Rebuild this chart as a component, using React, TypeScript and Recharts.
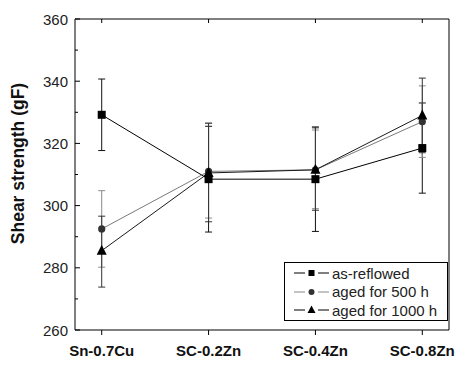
import React from 'react';
import { LineChart, Line, XAxis, YAxis, ErrorBar, Legend } from 'recharts';

const categories = ['Sn-0.7Cu', 'SC-0.2Zn', 'SC-0.4Zn', 'SC-0.8Zn'];
const seriesNames = ['as-reflowed', 'aged for 500 h', 'aged for 1000 h'];

const asReflowed = [329.2, 308.5, 308.5, 318.5];
const asReflowedErr = [[11.5, 11.5], [17, 17], [16.8, 16.8], [14.5, 14.5]];
const aged500 = [292.5, 311, 311.5, 327];
const aged500Err = [[12.3, 12.3], [15, 15.5], [12.5, 12.8], [11.5, 11.5]];
const aged1000 = [285.5, 310.5, 311.5, 329];
const aged1000Err = [[11.7, 11.1], [15.7, 16], [13, 13.5], [12, 12]];

const yTicks = [260, 270, 280, 290, 300, 310, 320, 330, 340, 350, 360];
const yLabels = [260, 280, 300, 320, 340, 360];

const FONT = 'Arial, "Liberation Sans", sans-serif';
const PLOT_LEFT = 75;
const PLOT_RIGHT = 449;
const PLOT_TOP = 19;

const data = categories.map((name, i) => ({
  x: i,
  name,
  s0: asReflowed[i],
  e0: asReflowedErr[i],
  s1: aged500[i],
  e1: aged500Err[i],
  s2: aged1000[i],
  e2: aged1000Err[i],
}));

const colors = ['#000000', '#7a7a7a', '#1a1a1a'];
const errColors = ['#111111', '#8a8a8a', '#333333'];

const Marker = ({ kind, cx, cy }: any) => {
  if (kind === 0) return <rect x={cx - 4} y={cy - 4} width={8} height={8} fill="#000" />;
  if (kind === 1) return <circle cx={cx} cy={cy} r={3.6} fill="#333" />;
  return <polygon points={`${cx},${cy - 6} ${cx - 5},${cy + 4} ${cx + 5},${cy + 4}`} fill="#000" />;
};

const LeftTick = (props: any) => {
  const { y, payload } = props;
  const major = yLabels.includes(payload.value);
  return (
    <g>
      <line x1={PLOT_LEFT} x2={PLOT_LEFT + (major ? 5 : 3)} y1={y} y2={y} stroke="#000" />
      {major && (
        <text x={68} y={y} dy={5.5} textAnchor="end" fontSize={15} fill="#222" fontFamily={FONT}>
          {payload.value}
        </text>
      )}
    </g>
  );
};

const RightTick = (props: any) => {
  const { y, payload } = props;
  const major = yLabels.includes(payload.value);
  return <line x1={PLOT_RIGHT} x2={PLOT_RIGHT - (major ? 5 : 3)} y1={y} y2={y} stroke="#000" />;
};

const TopTick = (props: any) => {
  const { x } = props;
  return <line x1={x} x2={x} y1={PLOT_TOP} y2={PLOT_TOP + 4} stroke="#000" />;
};

const LegendBox = () => (
  <div
    style={{
      border: '1px solid #000',
      background: '#fff',
      width: 162,
      height: 56,
      boxSizing: 'content-box',
      fontFamily: FONT,
      fontSize: 15,
      color: '#222',
      paddingTop: 1,
    }}
  >
    {seriesNames.map((n, i) => (
      <div key={n} style={{ display: 'flex', alignItems: 'center', height: 18.5 }}>
        <svg width={47} height={14} style={{ flex: 'none' }}>
          <line x1={9} x2={20} y1={7} y2={7} stroke={i === 1 ? '#888' : '#000'} />
          <line x1={33} x2={44} y1={7} y2={7} stroke={i === 1 ? '#888' : '#000'} />
          {i === 0 && <rect x={23.5} y={4} width={6} height={6} fill="#000" />}
          {i === 1 && <circle cx={26.5} cy={7} r={3} fill="#333" />}
          {i === 2 && <polygon points="26.5,2.5 22.5,10 30.5,10" fill="#000" />}
        </svg>
        <span style={{ whiteSpace: 'nowrap' }}>{n}</span>
      </div>
    ))}
  </div>
);

const App = () => {
  return (
    <div style={{ position: 'absolute', left: 0, top: 0, background: '#fff' }}>
      <LineChart width={455} height={365} data={data} margin={{ top: 0, right: 0, left: 0, bottom: 0 }}>
        <XAxis
          dataKey="x"
          type="number"
          domain={[-0.25, 3.25]}
          ticks={[0, 1, 2, 3]}
          tickFormatter={(v: number) => categories[v]}
          height={35}
          stroke="#000"
          tickSize={5}
          tickMargin={10}
          interval={0}
          tick={{ fontSize: 15, fontWeight: 'bold', fill: '#111', fontFamily: FONT }}
        />
        <XAxis
          xAxisId="top"
          orientation="top"
          dataKey="x"
          type="number"
          domain={[-0.25, 3.25]}
          ticks={[0, 1, 2, 3]}
          interval={0}
          height={PLOT_TOP}
          stroke="#000"
          tickLine={false}
          tick={<TopTick />}
        />
        <YAxis
          type="number"
          domain={[260, 360]}
          ticks={yTicks}
          interval={0}
          width={PLOT_LEFT}
          stroke="#000"
          tickLine={false}
          tick={<LeftTick />}
          label={{
            content: () => (
              <text
                x={23.5}
                y={163.5}
                transform="rotate(-90 23.5 163.5)"
                textAnchor="middle"
                fontSize={17.5}
                fontWeight="bold"
                fill="#111"
                fontFamily={FONT}
              >
                Shear strength (gF)
              </text>
            ),
          }}
        />
        <YAxis
          yAxisId="right"
          orientation="right"
          type="number"
          domain={[260, 360]}
          ticks={yTicks}
          interval={0}
          width={6}
          stroke="#000"
          tickLine={false}
          tick={<RightTick />}
        />
        {[0, 1, 2].map((k) => (
          <Line
            key={k}
            dataKey={`s${k}`}
            name={seriesNames[k]}
            type="linear"
            stroke={colors[k]}
            strokeWidth={1}
            isAnimationActive={false}
            dot={(p: any) => <Marker key={`${k}-${p.index}`} kind={k} cx={p.cx} cy={p.cy} />}
            activeDot={false}
          >
            <ErrorBar dataKey={`e${k}`} direction="y" width={3.5} stroke={errColors[k]} strokeWidth={1} />
          </Line>
        ))}
        <Legend
          layout="horizontal"
          verticalAlign="middle"
          align="center"
          wrapperStyle={{ left: 284, top: 262, width: 164 }}
          content={() => <LegendBox />}
        />
      </LineChart>
    </div>
  );
};

export default App;
